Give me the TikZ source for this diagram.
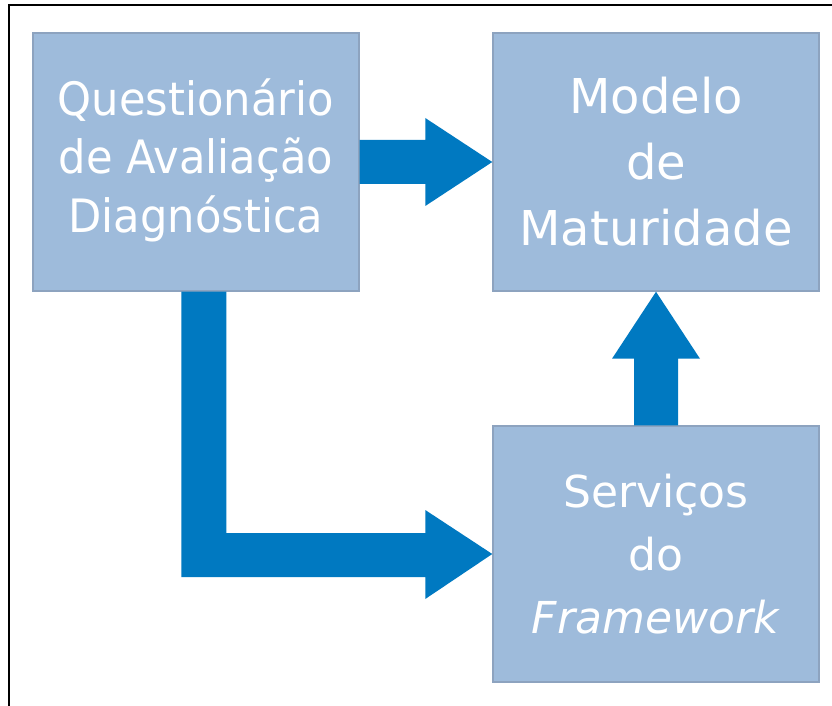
\documentclass[tikz,border=0pt]{standalone}
\usepackage{fontspec}
\setmainfont{DejaVu Sans}
\newfontfamily\narrowfont[FakeStretch=0.94]{DejaVu Sans}
\usetikzlibrary{calc}
\definecolor{boxfill}{HTML}{9EBBDB}
\definecolor{boxline}{HTML}{8DA3BF}
\definecolor{arrowblue}{HTML}{0079C1}
\tikzset{
  box/.style={draw=boxline, line width=1.1pt, fill=boxfill, text=white, align=center,
    minimum width=326*0.75pt, inner sep=0pt},
  bigarrow/.style={fill=arrowblue, draw=none},
}
\begin{document}
\begin{tikzpicture}[x=0.75pt,y=-0.75pt]
\useasboundingbox (0,0) rectangle (832,706);
\fill[white] (0,0) rectangle (832,706);
\draw[line width=1.5pt] (9,706) -- (9,5) -- (832,5);
\node[box, minimum height=258*0.75pt, font=\narrowfont\fontsize{34.5}{44}\selectfont] (q) at (196,162)
  {\raisebox{4pt}{\begin{tabular}{@{}c@{}}Questionário\\de Avaliação\\Diagnóstica\end{tabular}}};
\node[box, minimum height=258*0.75pt, font=\fontsize{36}{49.5}\selectfont] (m) at (656,162)
  {Modelo\\de\\Maturidade};
\node[box, minimum height=256*0.75pt, font=\fontsize{33}{47}\selectfont] (s) at (656,554)
  {Serviços\\do\\\textit{Framework}};
% arrow q -> m
\fill[bigarrow] ($(q.east)+(0,-22)$) -- ($(m.west)+(-67,-22)$) -- ($(m.west)+(-67,-44)$)
  -- (m.west) -- ($(m.west)+(-67,44)$) -- ($(m.west)+(-67,22)$) -- ($(q.east)+(0,22)$) -- cycle;
% L arrow q -> s
\fill[bigarrow] ($(q.south west)+(149,0)$) -- ($(q.south west)+(194,0)$)
  -- ($(s.west)+(-266,-21)$) -- ($(s.west)+(-67,-21)$) -- ($(s.west)+(-67,-44)$)
  -- (s.west) -- ($(s.west)+(-67,45)$) -- ($(s.west)+(-67,23)$) -- ($(s.west)+(-311,23)$) -- cycle;
% up arrow s -> m
\fill[bigarrow] (m.south) -- ($(m.south)+(44,67)$) -- ($(m.south)+(22,67)$)
  -- ($(s.north)+(22,0)$) -- ($(s.north)+(-22,0)$) -- ($(m.south)+(-22,67)$)
  -- ($(m.south)+(-44,67)$) -- cycle;
\end{tikzpicture}
\end{document}
